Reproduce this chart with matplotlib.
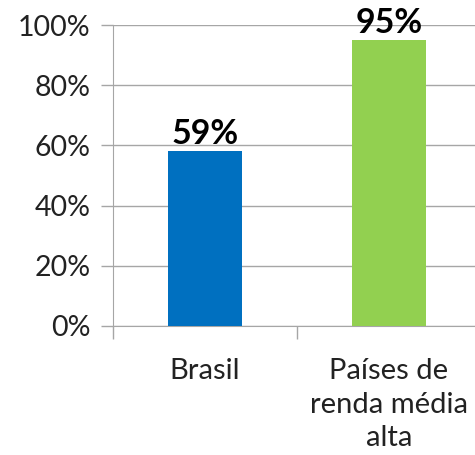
import matplotlib
matplotlib.use('Agg')
from matplotlib import pyplot as plt
from matplotlib.ticker import FixedLocator

# dados
categorias = ['Brasil', 'Países de\nrenda média\nalta']
valores = [58, 95]
rotulos = ['59%', '95%']
cores = ['#0070C0', '#92D050']
y_ticks = [0, 20, 40, 60, 80, 100]

plt.rcParams['font.family'] = ['Lato', 'DejaVu Sans']

fig = plt.figure(figsize=(4.75, 4.55), dpi=100)
ax = fig.add_axes([113 / 475, 129 / 455, 368 / 475, 301 / 455])

x = range(len(categorias))
ax.bar(x, valores, width=0.4, color=cores, zorder=3)

# rótulos em negrito acima das barras
for xi, v, txt in zip(x, valores, rotulos):
    ax.annotate(txt, (xi, v), xytext=(0, 1), textcoords='offset points',
                ha='center', va='bottom', fontsize=24.5, fontweight='bold',
                color='black', zorder=4)

ax.set_xlim(-0.5, 1.5)
ax.set_ylim(0, 100)
ax.set_yticks(y_ticks)
ax.set_yticklabels([f'{t}%' for t in y_ticks], fontsize=20.5, color='#222222')
ax.grid(axis='y', color='#A6A6A6', linewidth=1, zorder=0)

ax.set_xticks(list(x))
ax.set_xticklabels(categorias, fontsize=21, color='#222222', linespacing=1.36,
                   va='top')
ax.xaxis.set_minor_locator(FixedLocator([-0.5, 0.5, 1.5]))
ax.tick_params(axis='x', which='major', length=0, pad=23)
ax.tick_params(axis='x', which='minor', length=9, color='#A6A6A6', width=1)
ax.tick_params(axis='y', length=9, color='#A6A6A6', width=1, pad=7)

# eixos
ax.spines['right'].set_color('none')
ax.spines['top'].set_color('none')
ax.spines['left'].set_color('#A6A6A6')
ax.spines['bottom'].set_color('#A6A6A6')

plt.savefig('out.png', dpi=100)
